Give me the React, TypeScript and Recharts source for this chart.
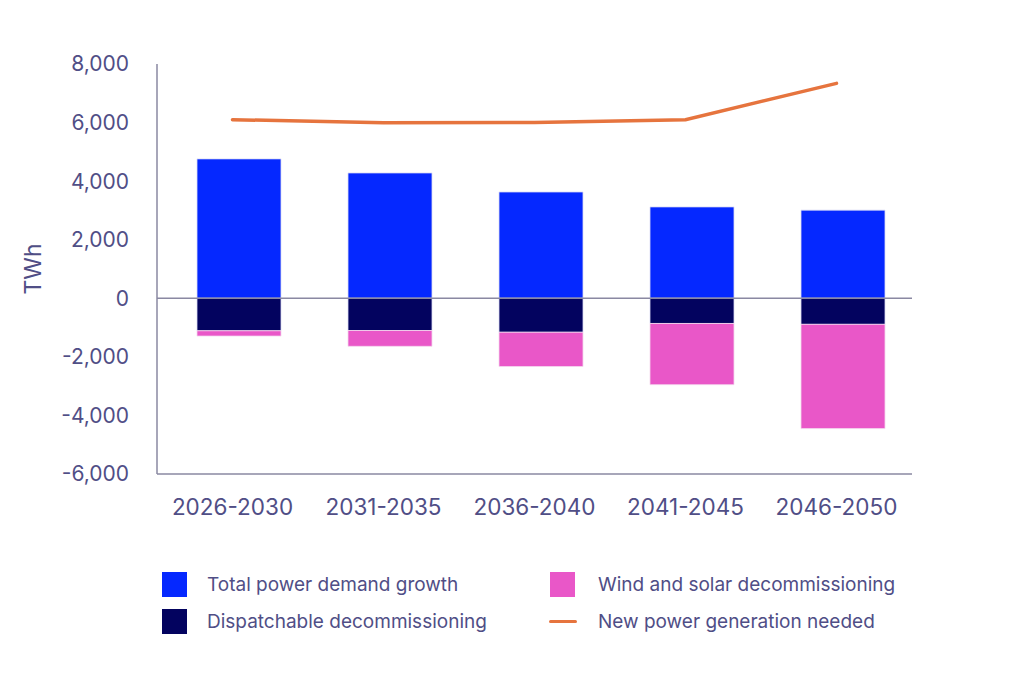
import React from 'react'
import {
  ComposedChart,
  Bar,
  Line,
  XAxis,
  YAxis,
  ReferenceLine,
} from 'recharts'

const periods = ['2026-2030', '2031-2035', '2036-2040', '2041-2045', '2046-2050']
const demandGrowth = [4760, 4280, 3630, 3120, 3010]
const dispatchableDecom = [-1110, -1100, -1160, -860, -890]
const windSolarDecom = [-180, -540, -1170, -2090, -3560]
const newGeneration = [6100, 5990, 6000, 6100, 7340]
const yTicks = [-6000, -4000, -2000, 0, 2000, 4000, 6000, 8000]

const C = {
  blue: '#0528ff',
  navy: '#03035f',
  pink: '#e957c8',
  orange: '#e6743e',
  text: '#504e86',
  axis: '#8a88a2',
}
const FONT = 'Inter, "Noto Sans", sans-serif'

const legendItems = [
  { name: 'Total power demand growth', color: C.blue, kind: 'box', left: 162, top: 572, gap: 20 },
  { name: 'Wind and solar decommissioning', color: C.pink, kind: 'box', left: 550, top: 572, gap: 23 },
  { name: 'Dispatchable decommissioning', color: C.navy, kind: 'box', left: 162, top: 609, gap: 20 },
  { name: 'New power generation needed', color: C.orange, kind: 'line', left: 549, top: 609, gap: 21 },
]

const data = periods.map((p, i) => ({
  period: p,
  demand: demandGrowth[i],
  dispatch: dispatchableDecom[i],
  wind: windSolarDecom[i],
  gen: newGeneration[i],
}))

export default function App() {
  return (
    <div style={{ position: 'relative', width: 1024, height: 674, background: '#fff', fontFamily: FONT }}>
      <style>{'body{margin:0}'}</style>
      <ComposedChart
        width={1024}
        height={674}
        data={data}
        stackOffset="sign"
        margin={{ top: 64, right: 112, bottom: 140, left: 21 }}
      >
        <YAxis
          width={136}
          domain={[-6000, 8000]}
          ticks={yTicks}
          interval={0}
          tickLine={false}
          tickSize={0}
          tickMargin={28}
          axisLine={{ stroke: C.axis, strokeWidth: 1.5 }}
          tickFormatter={(v: number) => v.toLocaleString('en-US')}
          tick={{ fill: C.text, fontSize: 21, fontFamily: FONT }}
          label={{
            value: 'TWh',
            angle: -90,
            position: 'insideLeft',
            offset: 12,
            style: { textAnchor: 'middle', fill: C.text, fontSize: 23, fontFamily: FONT },
          }}
        />
        <XAxis
          dataKey="period"
          height={60}
          tickLine={false}
          tickSize={0}
          tickMargin={25}
          axisLine={{ stroke: C.axis, strokeWidth: 1.5 }}
          tick={{ fill: C.text, fontSize: 22.5, fontFamily: FONT }}
        />
        {/* bars sit a few px right of the tick centres in the source */}
        <XAxis xAxisId="bars" dataKey="period" hide padding={{ left: 6, right: -6 }} />
        <ReferenceLine y={0} stroke={C.axis} strokeWidth={1.5} />
        <Bar xAxisId="bars" dataKey="demand" stackId="s" barSize={84} fill={C.blue} stroke="#dcdcf4" strokeWidth={0.8} isAnimationActive={false} />
        <Bar xAxisId="bars" dataKey="dispatch" stackId="s" barSize={84} fill={C.navy} stroke="#dcdcf4" strokeWidth={0.8} isAnimationActive={false} />
        <Bar xAxisId="bars" dataKey="wind" stackId="s" barSize={84} fill={C.pink} stroke="#f4d8ee" strokeWidth={0.8} isAnimationActive={false} />
        <Line
          type="linear"
          dataKey="gen"
          stroke={C.orange}
          strokeWidth={3.5}
          strokeLinecap="round"
          dot={false}
          isAnimationActive={false}
        />
      </ComposedChart>
      {legendItems.map(item => (
        <div
          key={item.name}
          style={{ position: 'absolute', left: item.left, top: item.top, height: 25, display: 'flex', alignItems: 'center' }}
        >
          {item.kind === 'box' ? (
            <div style={{ width: 25, height: 25, background: item.color }} />
          ) : (
            <div style={{ width: 28, height: 3.5, background: item.color, borderRadius: 2 }} />
          )}
          <span
            style={{
              marginLeft: item.gap,
              fontSize: 19,
              color: C.text,
              whiteSpace: 'nowrap',
            }}
          >
            {item.name}
          </span>
        </div>
      ))}
    </div>
  )
}
